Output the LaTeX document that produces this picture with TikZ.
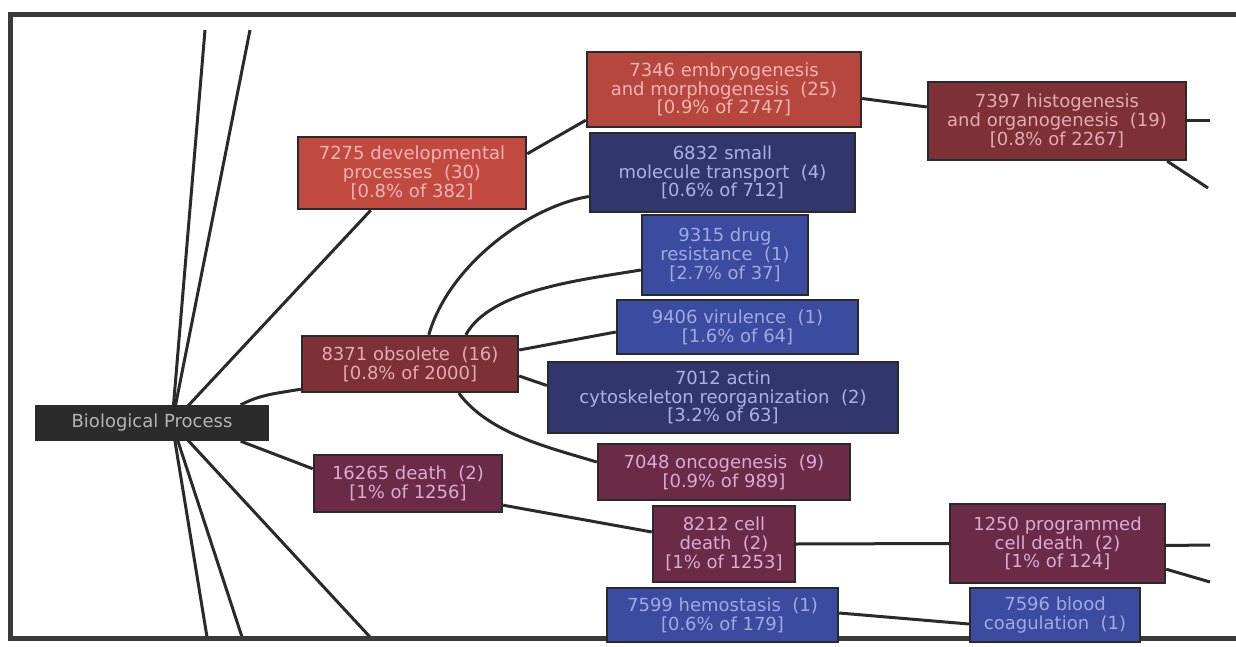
\documentclass[tikz,border=0pt]{standalone}
\usepackage{fontspec}
\setmainfont{DejaVu Sans}
\usetikzlibrary{calc,backgrounds}
\definecolor{edgegray}{HTML}{2A2A2A}
\definecolor{framegray}{HTML}{3A3A3A}
\definecolor{rootfill}{HTML}{2B2B2B}
\definecolor{rootink}{HTML}{B4B4B4}
\definecolor{devred}{HTML}{C04A40}
\definecolor{embred}{HTML}{B5473F}
\definecolor{redink}{HTML}{F2B4B0}
\definecolor{darkred}{HTML}{7E3037}
\definecolor{darkredink}{HTML}{E4AAB2}
\definecolor{navyfill}{HTML}{31376D}
\definecolor{navyink}{HTML}{AAB2E2}
\definecolor{bluefill}{HTML}{3B4BA0}
\definecolor{blueink}{HTML}{9EAAE0}
\definecolor{plumfill}{HTML}{6B2A45}
\definecolor{plumink}{HTML}{DCAAD2}
\tikzset{
	term/.style={rectangle,draw=edgegray,line width=1.2pt,align=center,inner sep=1pt,
		font=\fontsize{9}{9.4}\selectfont},
	rootterm/.style={term,fill=rootfill,text=rootink},
	redterm/.style={term,fill=devred,text=redink},
	embterm/.style={term,fill=embred,text=redink},
	maroonterm/.style={term,fill=darkred,text=darkredink},
	navyterm/.style={term,fill=navyfill,text=navyink},
	blueterm/.style={term,fill=bluefill,text=blueink},
	plumterm/.style={term,fill=plumfill,text=plumink},
	link/.style={draw=edgegray,line width=1.5pt}
}

\begin{document}
\begin{tikzpicture}[x=0.5pt,y=-0.5pt]
	\useasboundingbox (0,0) rectangle (1236,647);
	\draw[framegray,line width=2.5pt] (1236,15) -- (10,15) -- (10,638) -- (1236,638);
	% root and its children
	\node[rootterm,minimum width=115.5pt,minimum height=17pt] (bio) at (152,423) {Biological Process};
	\coordinate (hub) at (172,423);
	\node[redterm,minimum width=114pt,minimum height=36pt] (dev) at (412,173)
		{7275 developmental\\processes~ (30)\\{[}0.8\% of 382{]}};
	\node[maroonterm,minimum width=108pt,minimum height=28pt] (obsol) at (410,364)
		{8371 obsolete~ (16)\\{[}0.8\% of 2000{]}};
	\node[plumterm,minimum width=94pt,minimum height=28.5pt] (death) at (408,483.5)
		{16265 death~ (2)\\{[}1\% of 1256{]}};
	% second column
	\node[embterm,minimum width=137pt,minimum height=37.5pt] (embryo) at (724,89.5)
		{7346 embryogenesis\\and morphogenesis~ (25)\\{[}0.9\% of 2747{]}};
	\node[navyterm,minimum width=132.5pt,minimum height=39.5pt] (smallmol) at (722.5,172.5)
		{6832 small\\molecule transport~ (4)\\{[}0.6\% of 712{]}};
	\node[blueterm,minimum width=83pt,minimum height=40pt] (drug) at (725,255)
		{9315 drug\\resistance~ (1)\\{[}2.7\% of 37{]}};
	\node[blueterm,minimum width=120.5pt,minimum height=27pt] (virul) at (737.5,327)
		{9406 virulence~ (1)\\{[}1.6\% of 64{]}};
	\node[navyterm,minimum width=175pt,minimum height=35.5pt] (actin) at (723,397.5)
		{7012 actin\\cytoskeleton reorganization~ (2)\\{[}3.2\% of 63{]}};
	\node[plumterm,minimum width=126pt,minimum height=28pt] (onco) at (724,472)
		{7048 oncogenesis~ (9)\\{[}0.9\% of 989{]}};
	\node[plumterm,minimum width=71pt,minimum height=38pt] (celldeath) at (724,544)
		{8212 cell\\death~ (2)\\{[}1\% of 1253{]}};
	\node[blueterm,minimum width=115.5pt,minimum height=27pt] (hemo) at (722.5,615)
		{7599 hemostasis~ (1)\\{[}0.6\% of 179{]}};
	% third column
	\node[maroonterm,minimum width=129pt,minimum height=39pt] (histo) at (1057,121)
		{7397 histogenesis\\and organogenesis~ (19)\\{[}0.8\% of 2267{]}};
	\node[plumterm,minimum width=107.5pt,minimum height=39.5pt] (pcd) at (1057.5,543.5)
		{1250 programmed\\cell death~ (2)\\{[}1\% of 124{]}};
	\node[blueterm,minimum width=85pt,minimum height=27pt] (coag) at (1055,615)
		{7596 blood\\coagulation~ (1)};
	% free ends
	\coordinate (up1) at (205,30);
	\coordinate (up2) at (250,30);
	\coordinate (dn1) at (207,637);
	\coordinate (dn2) at (242,637);
	\coordinate (dn3) at (370,637);
	\coordinate (histoA) at (1210,121);
	\coordinate (histoB) at (1208,188);
	\coordinate (pcdA) at (1210,545);
	\coordinate (pcdB) at (1210,582);
	\begin{scope}[on background layer]
	\foreach \e in {up1,up2,dn1,dn2,dn3}
		\draw[link] (hub) -- (\e);
	\draw[link] (hub) -- ($(dev.south west)+(74,0)$);
	\draw[link] ($(bio.north east)+(-28,0)$) .. controls +(20,-10) and +(-30,5) .. ($(obsol.south west)+(0,-4)$);
	\draw[link] ($(bio.south east)+(-28,0)$) -- ($(death.north west)+(0,15)$);
	\draw[link] ($(dev.north east)+(0,18)$) -- ($(embryo.south west)+(0,-8)$);
	\draw[link] ($(embryo.east)+(0,9)$) -- ($(histo.west)+(0,-14)$);
	\draw[link] (histo.east) -- (histoA);
	\draw[link] ($(histo.south east)+(-20,0)$) -- (histoB);
	\draw[link] ($(obsol.north west)+(128,0)$) .. controls +(20,-70) and +(-60,10) .. ($(smallmol.west)+(0,24)$);
	\draw[link] ($(obsol.north west)+(165,0)$) .. controls +(25,-45) and +(-60,10) .. ($(drug.west)+(0,15)$);
	\draw[link] ($(obsol.east)+(0,-14)$) -- ($(virul.west)+(0,5)$);
	\draw[link] ($(obsol.east)+(0,12)$) -- ($(actin.west)+(0,-12)$);
	\draw[link] ($(obsol.south west)+(158,0)$) .. controls +(30,40) and +(-50,-15) .. ($(onco.west)+(0,-10)$);
	\draw[link] ($(death.south east)+(0,-8)$) -- ($(celldeath.west)+(0,-12)$);
	\draw[link] (celldeath.east) -- (pcd.west);
	\draw[link] ($(pcd.east)+(0,2)$) -- (pcdA);
	\draw[link] ($(pcd.south east)+(0,-15)$) -- (pcdB);
	\draw[link] ($(hemo.east)+(0,-2)$) -- ($(coag.west)+(0,9)$);
	\end{scope}
\end{tikzpicture}
\end{document}
